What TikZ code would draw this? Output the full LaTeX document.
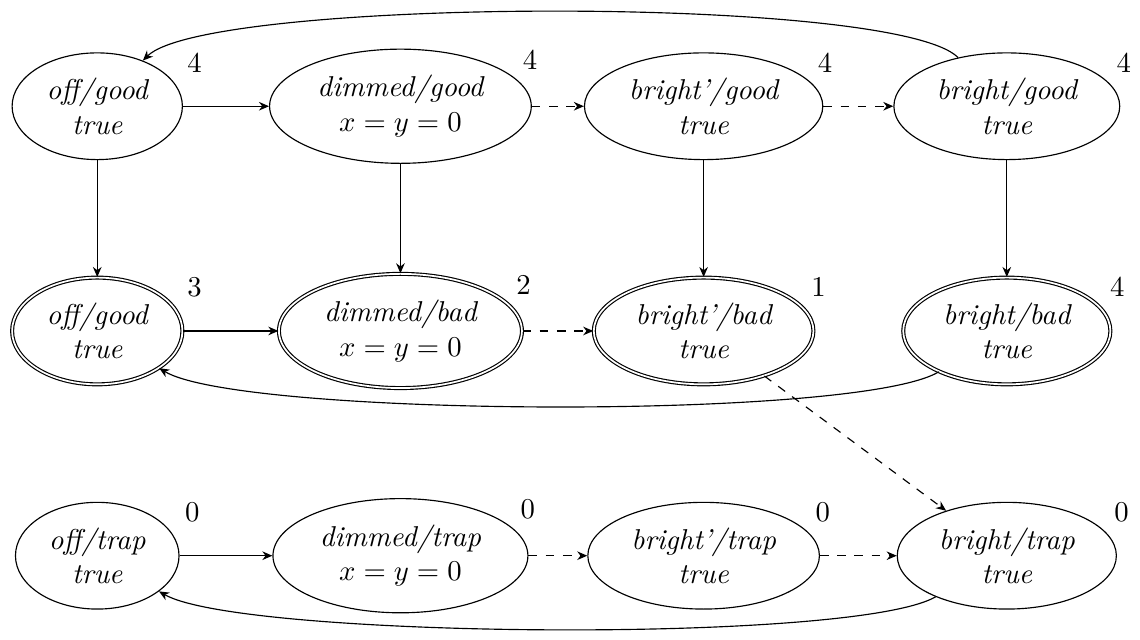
\documentclass[tikz,border=0pt]{standalone}
\usetikzlibrary{arrows.meta,positioning,shapes.geometric}
\tikzset{
  st/.style={draw, ellipse, align=center, font=\itshape},
  acc/.style={st, double},
  tr/.style={-{Stealth[length=3.5pt,width=3pt]}},
  trd/.style={tr, dashed},
  num/.style={inner sep=0pt},
}
\begin{document}
\begin{tikzpicture}[node distance=2.75cm and 3.71cm, on grid]
  \useasboundingbox (-1.19,-6.52) rectangle (12.76,1.30);
  % good row
  \node[st] (offG) {off/good\\ true};
  \node[st, right=of offG] (dimG) {dimmed/good\\ $x=y=0$};
  \node[st, right=of dimG] (brpG) {bright'/good\\ true};
  \node[st, right=of brpG] (brG) {bright/good\\ true};
  % bad row
  \node[acc, below=of offG] (offB) {off/good\\ true};
  \node[acc, right=of offB] (dimB) {dimmed/bad\\ $x=y=0$};
  \node[acc, right=of dimB] (brpB) {bright'/bad\\ true};
  \node[acc, right=of brpB] (brB) {bright/bad\\ true};
  % trap row
  \node[st, below=of offB] (offT) {off/trap\\ true};
  \node[st, right=of offT] (dimT) {dimmed/trap\\ $x=y=0$};
  \node[st, right=of dimT] (brpT) {bright'/trap\\ true};
  \node[st, right=of brpT] (brT) {bright/trap\\ true};
  % values
  \node[num] (wOffG) at ([shift={(0.45,0.07)}]offG.north east) {4};
  \node[num] (wDimG) at ([shift={(0.45,0.07)}]dimG.north east) {4};
  \node[num] (wBrpG) at ([shift={(0.45,0.07)}]brpG.north east) {4};
  \node[num] (wBrG) at ([shift={(0.45,0.07)}]brG.north east) {4};
  \node[num] (wOffB) at ([shift={(0.45,0.07)}]offB.north east) {3};
  \node[num] (wDimB) at ([shift={(0.45,0.07)}]dimB.north east) {2};
  \node[num] (wBrpB) at ([shift={(0.45,0.07)}]brpB.north east) {1};
  \node[num] (wBrB) at ([shift={(0.45,0.07)}]brB.north east) {4};
  \node[num] (wOffT) at ([shift={(0.45,0.07)}]offT.north east) {0};
  \node[num] (wDimT) at ([shift={(0.45,0.07)}]dimT.north east) {0};
  \node[num] (wBrpT) at ([shift={(0.45,0.07)}]brpT.north east) {0};
  \node[num] (wBrT) at ([shift={(0.45,0.07)}]brT.north east) {0};
  % moves
  \draw[tr] (offG) -- (dimG);
  \draw[trd] (dimG) -- (brpG);
  \draw[trd] (brpG) -- (brG);
  \draw[tr] (offB) -- (dimB);
  \draw[trd] (dimB) -- (brpB);
  \draw[tr] (offT) -- (dimT);
  \draw[trd] (dimT) -- (brpT);
  \draw[trd] (brpT) -- (brT);
  \draw[tr] (offG) -- (offB);
  \draw[tr] (dimG) -- (dimB);
  \draw[tr] (brpG) -- (brpB);
  \draw[tr] (brG) -- (brB);
  \draw[trd] (brpB) -- (brT);
  \draw[tr] (brG) to[out=135, in=45, looseness=0.28] (offG);
  \draw[tr] (brB) to[out=211, in=329, looseness=0.31] (offB);
  \draw[tr] (brT) to[out=210, in=330, looseness=0.31] (offT);
\end{tikzpicture}
\end{document}
